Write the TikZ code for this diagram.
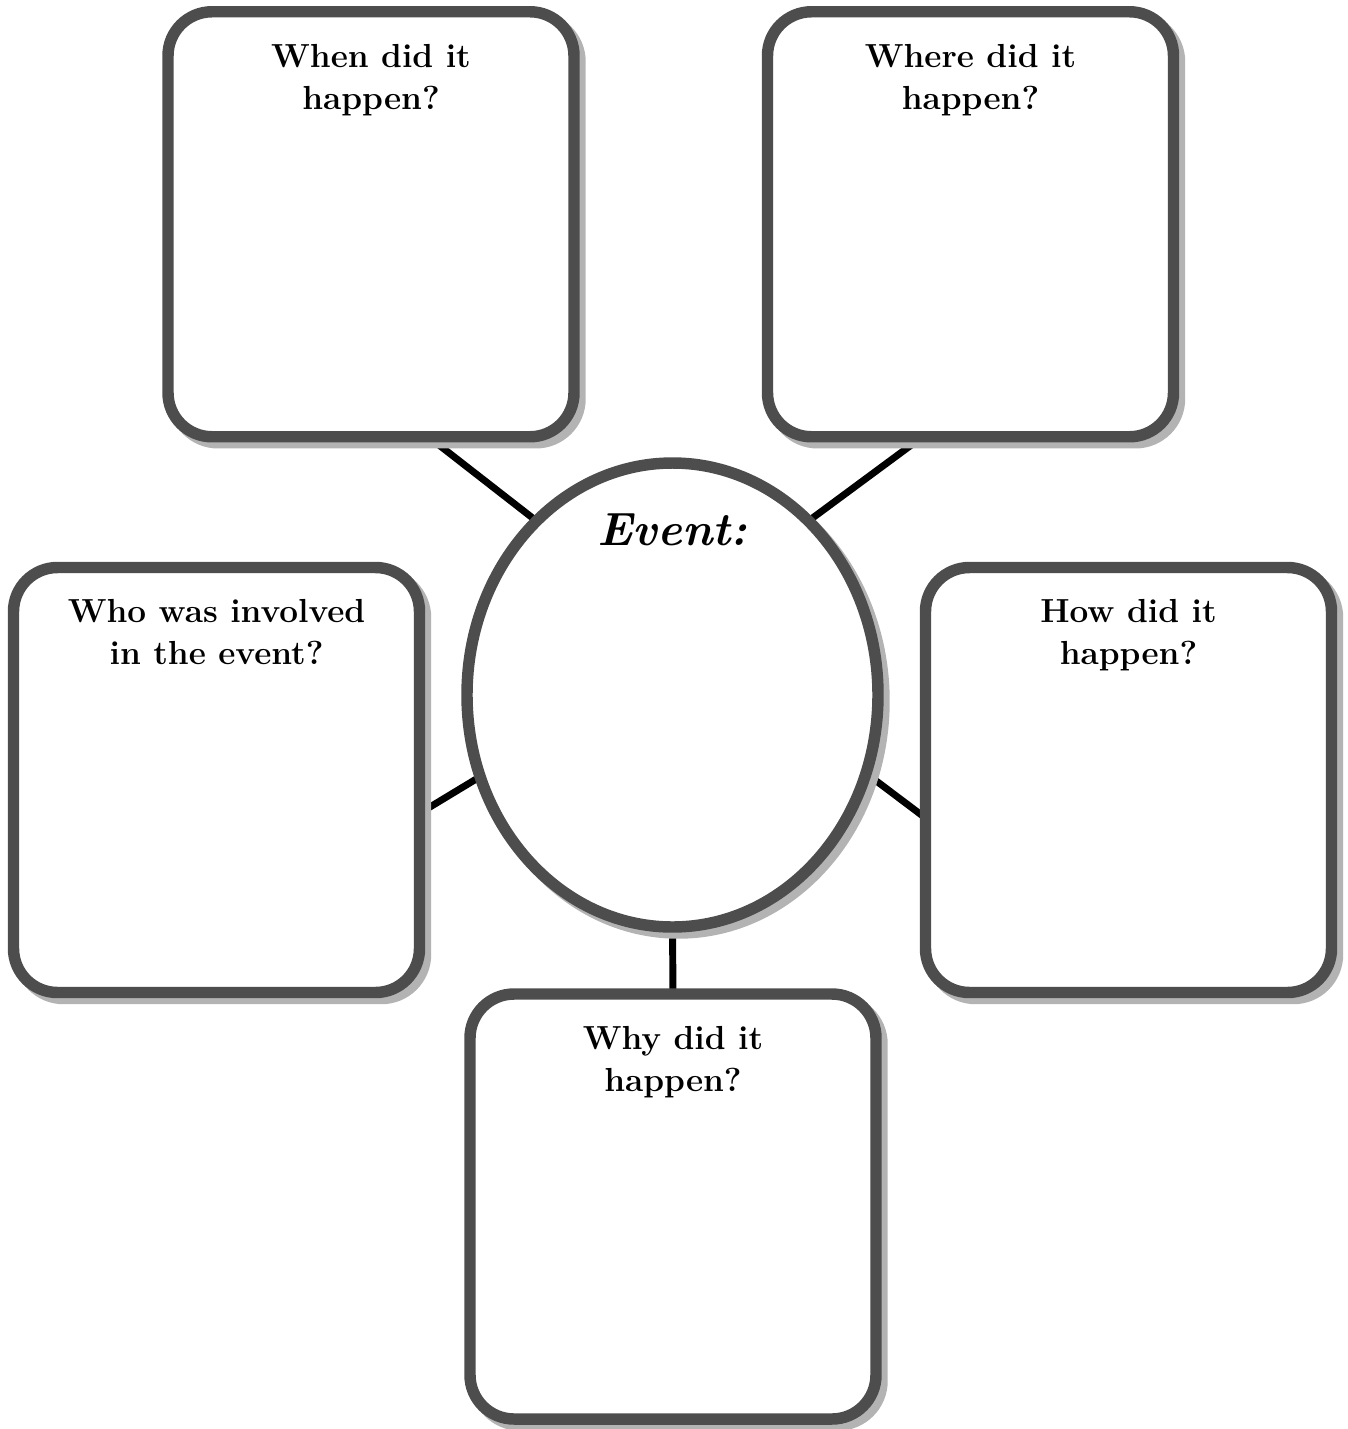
\documentclass[tikz,border=0pt]{standalone}
\usetikzlibrary{shapes.geometric}
\definecolor{bordergray}{HTML}{4D4D4D}
\definecolor{shadowgray}{HTML}{B3B3B3}
\pgfdeclarelayer{background}
\pgfsetlayers{background,main}
\begin{document}
\begin{tikzpicture}[x=0.75pt,y=-0.75pt,
  shadowed/.style={preaction={draw=shadowgray, line width=8.6pt, transform canvas={shift={(4.5pt,-4.5pt)}}}},
  qbox/.style={shadowed, draw=bordergray, line width=8.6pt, fill=white, rounded corners=33pt,
    minimum width=304.5pt, minimum height=318.75pt, inner sep=0pt, outer sep=0pt},
  eventshape/.style={ellipse, shadowed, draw=bordergray, line width=8.6pt, fill=white,
    minimum width=308.25pt, minimum height=348pt, inner sep=0pt, outer sep=0pt},
  qtext/.style={font=\fontsize{25}{31.5}\selectfont\bfseries, align=center, anchor=north, inner sep=0pt},
  link/.style={draw=black, line width=5.2pt}]
\useasboundingbox (0,0) rectangle (1348,1429);

\node[qbox] (when) at (371,224.25) {};
\node[qbox] (where) at (970.5,224.25) {};
\node[qbox] (who) at (216.5,780) {};
\node[qbox] (how) at (1128.5,780) {};
\node[qbox] (why) at (673,1206.5) {};
\node[eventshape] (event) at (672.5,695) {};

\node[qtext] (whentext) at ([yshift=-24pt]when.north) {When did it\\happen?};
\node[qtext] (wheretext) at ([yshift=-24pt]where.north) {Where did it\\happen?};
\node[qtext] (whotext) at ([yshift=-24pt]who.north) {Who was involved\\in the event?};
\node[qtext] (howtext) at ([yshift=-24pt]how.north) {How did it\\happen?};
\node[qtext] (whytext) at ([yshift=-24pt]why.north) {Why did it\\happen?};
\node[font=\fontsize{35}{40}\selectfont\bfseries\itshape, anchor=base, inner sep=0pt] (eventtext) at ([yshift=-61.5pt]event.north) {Event:};

\coordinate (whenend) at ([xshift=43pt]when.south);
\coordinate (whereend) at ([xshift=-36pt]where.south);
\coordinate (whoend) at ([yshift=-25pt]who.east);
\coordinate (howend) at ([yshift=-28.5pt]how.west);

\begin{pgfonlayer}{background}
\draw[link] (whenend) -- (event.128);
\draw[link] (whereend) -- (event.52);
\draw[link] (whoend) -- (event.203);
\draw[link] (howend) -- (event.338);
\draw[link] (event.south) -- (why.north);
\end{pgfonlayer}
\end{tikzpicture}
\end{document}
